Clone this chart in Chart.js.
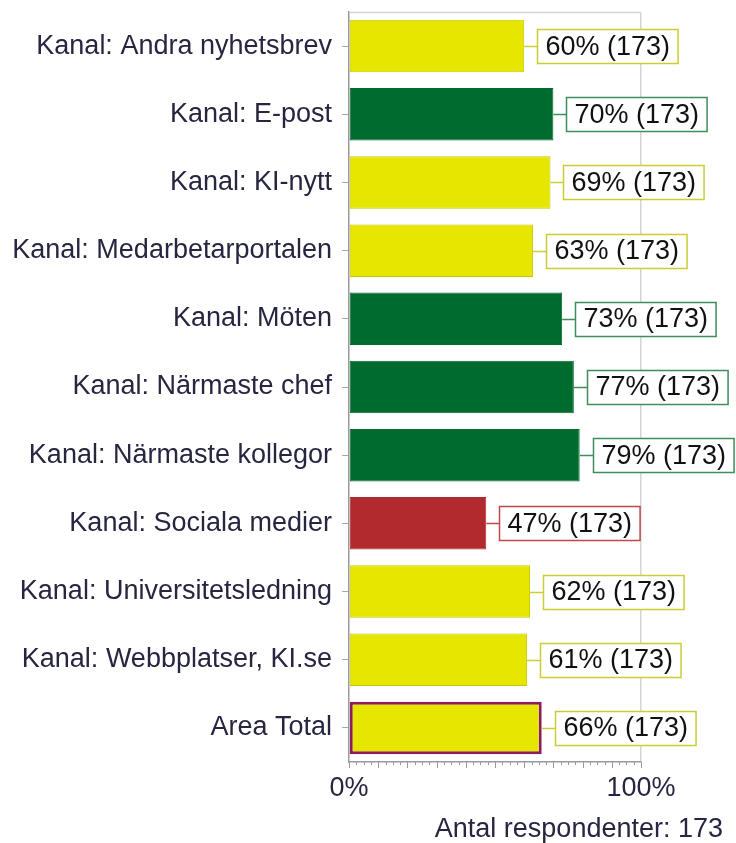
<!DOCTYPE html>
<html>
<head>
<meta charset="utf-8">
<script src="https://cdn.jsdelivr.net/npm/chart.js@4.4.0/dist/chart.umd.min.js"></script>
<style>
  html, body { margin: 0; padding: 0; background: #fff; }
  #wrap { width: 736px; height: 843px; }
</style>
</head>
<body>
<div id="wrap"><canvas id="chart" width="736" height="843"></canvas></div>
<script>
// values
var categories = [
  "Kanal: Andra nyhetsbrev",
  "Kanal: E-post",
  "Kanal: KI-nytt",
  "Kanal: Medarbetarportalen",
  "Kanal: Möten",
  "Kanal: Närmaste chef",
  "Kanal: Närmaste kollegor",
  "Kanal: Sociala medier",
  "Kanal: Universitetsledning",
  "Kanal: Webbplatser, KI.se",
  "Area Total"
];
var percents = [60, 70, 69, 63, 73, 77, 79, 47, 62, 61, 66];
var counts = [173, 173, 173, 173, 173, 173, 173, 173, 173, 173, 173];
var respondents = 173;
var axisLabels = { 0: "0%", 100: "100%" };

var FONT = "'Liberation Sans', Arial, sans-serif";

// colour by level: green >= 70, red < 50, yellow otherwise
function fillFor(v) {
  if (v >= 70) return "#006b2e";
  if (v < 50) return "#b02a2e";
  return "#e6e600";
}
function boxBorderFor(v) {
  if (v >= 70) return "#3f8c5c";
  if (v < 50) return "#c0484b";
  return "#cccc33";
}
var lastIdx = categories.length - 1;

var barFills = percents.map(fillFor);
var barBorders = percents.map(function(v, i) {
  if (i === lastIdx) return "#8c1c5c";
  return v >= 50 && v < 70 ? "#c8c800" : fillFor(v);
});
var barBorderWidths = percents.map(function(v, i) { return i === lastIdx ? 3 : 1; });

// value boxes to the right of each bar
var valueBoxes = {
  id: "valueBoxes",
  afterDatasetsDraw: function(chart) {
    var ctx = chart.ctx;
    var meta = chart.getDatasetMeta(0);
    ctx.save();
    ctx.font = "27px " + FONT;
    ctx.textBaseline = "middle";
    meta.data.forEach(function(bar, i) {
      var txt = percents[i] + "% (" + counts[i] + ")";
      var w = ctx.measureText(txt).width;
      var x0 = Math.round(bar.x + 13) + 0.5;
      var h = 34;
      var y0 = Math.round(bar.y - h / 2) + 0.5;
      var col = boxBorderFor(percents[i]);
      ctx.strokeStyle = col;
      ctx.lineWidth = 1.5;
      ctx.beginPath();
      ctx.moveTo(bar.x, Math.round(bar.y) + 0.5);
      ctx.lineTo(x0, Math.round(bar.y) + 0.5);
      ctx.stroke();
      ctx.fillStyle = "#fff";
      ctx.fillRect(x0, y0, w + 16, h);
      ctx.strokeRect(x0, y0, w + 16, h);
      ctx.fillStyle = "#111";
      ctx.textAlign = "left";
      ctx.fillText(txt, x0 + 8, bar.y + 1);
    });
    ctx.restore();
  }
};

// frame top line, x tick marks (major each 10, minor each 2.5), footnote
var frame = {
  id: "frame",
  afterDraw: function(chart) {
    var ctx = chart.ctx;
    var a = chart.chartArea;
    var xs = chart.scales.x;
    ctx.save();
    ctx.strokeStyle = "#d4d4d4";
    ctx.lineWidth = 1.5;
    ctx.beginPath();
    ctx.moveTo(a.left, a.top + 0.5);
    ctx.lineTo(a.right, a.top + 0.5);
    ctx.stroke();

    ctx.strokeStyle = "#9a9a9a";
    ctx.lineWidth = 1;
    xs.ticks.forEach(function(t) {
      var px = Math.round(xs.getPixelForValue(t.value)) + 0.5;
      var major = Math.abs(t.value % 10) < 0.001;
      ctx.beginPath();
      ctx.moveTo(px, a.bottom);
      ctx.lineTo(px, a.bottom + (major ? 6 : 3));
      ctx.stroke();
    });

    ctx.fillStyle = "#262640";
    ctx.font = "27px " + FONT;
    ctx.textAlign = "right";
    ctx.textBaseline = "middle";
    ctx.fillText("Antal respondenter: " + respondents, 723, 830);
    ctx.restore();
  }
};

new Chart(document.getElementById("chart"), {
  type: "bar",
  data: {
    labels: categories,
    datasets: [{
      data: percents,
      backgroundColor: barFills,
      borderColor: barBorders,
      borderWidth: barBorderWidths,
      borderSkipped: false,
      categoryPercentage: 1,
      barPercentage: 0.77
    }]
  },
  options: {
    indexAxis: "y",
    responsive: false,
    animation: false,
    layout: { padding: { top: 12, right: 95, left: 0, bottom: 0 } },
    plugins: { legend: { display: false }, tooltip: { enabled: false } },
    scales: {
      x: {
        min: 0,
        max: 100,
        afterFit: function(s) { s.height = 81; s.paddingLeft = 0; s.paddingRight = 0; },
        ticks: {
          stepSize: 2.5,
          autoSkip: false,
          maxRotation: 0,
          padding: 10,
          color: "#262640",
          font: { family: FONT, size: 27 },
          callback: function(v) { return axisLabels[v] || ""; }
        },
        grid: {
          drawTicks: false,
          lineWidth: 1.5,
          color: function(c) { return c.tick && c.tick.value === 100 ? "#d4d4d4" : "rgba(0,0,0,0)"; }
        },
        border: { color: "#9a9a9a", width: 1.5 }
      },
      y: {
        afterFit: function(s) { s.width = 349; s.paddingTop = 0; s.paddingBottom = 0; },
        ticks: {
          padding: 10,
          color: "#262640",
          font: { family: FONT, size: 27 }
        },
        grid: {
          offset: false,
          drawOnChartArea: false,
          tickLength: 7,
          tickColor: "#a8a8a8"
        },
        border: { color: "#9a9a9a", width: 1.5 }
      }
    }
  },
  plugins: [valueBoxes, frame]
});
</script>
</body>
</html>
